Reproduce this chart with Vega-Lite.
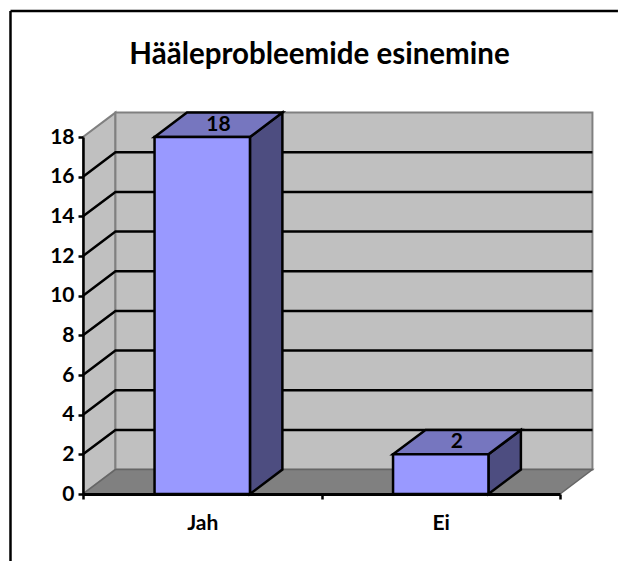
{
"$schema":"https://vega.github.io/schema/vega-lite/v6.json",
"width":477,"height":357,
"autosize":"none",
"padding":{"left":83,"top":137,"right":58,"bottom":67},
"background":"white",
"config":{"view":{"stroke":null}},
"title":{"text":"Hääleprobleemide esinemine","font":"Lato","fontSize":29.5,"fontWeight":"bold","color":"#000000","anchor":"middle","frame":"group","offset":-61,"dx":-2},
"datasets":{
"bars":[{"category":"Jah","value":18,"slot":0},{"category":"Ei","value":2,"slot":1}],
"ticks":[{"tick":2},{"tick":4},{"tick":6},{"tick":8},{"tick":10},{"tick":12},{"tick":14},{"tick":16}],
"floor":[{"value":0,"slot":0}],
"edge":[{"depth":0},{"depth":1}]
},
"encoding":{
  "x":{"field":"px","type":"quantitative","scale":{"domain":[0,2],"nice":false,"zero":false},"title":null,
   "axis":{"zindex":1,"values":[0,0.5,1,1.5,2],"labelExpr":"datum.value==0.5?'Jah':datum.value==1.5?'Ei':''","domainColor":"#000000","domainWidth":3,"tickColor":"#000000","tickWidth":2.5,"tickSize":5,"tickOpacity":{"condition":{"test":"datum.value==0||datum.value==1||datum.value==2","value":1},"value":0},"labelFont":"Lato","labelFontWeight":"bold","labelFontSize":21,"labelColor":"#000000","labelPadding":13,"labelAngle":0,"labelOverlap":false,"labelBound":false,"labelFlush":false,"grid":false}},
  "y":{"field":"yb","type":"quantitative","scale":{"domain":[0,18],"nice":false,"zero":false},"title":null,
   "axis":{"zindex":1,"values":[0,2,4,6,8,10,12,14,16,18],"domainColor":"#000000","domainWidth":2.5,"tickColor":"#000000","tickWidth":2.5,"tickSize":5,"labelFont":"Lato","labelFontWeight":"bold","labelFontSize":21,"labelColor":"#000000","labelPadding":4,"labelOverlap":false,"labelBound":false,"labelFlush":false,"grid":false}}
},
"layer":[
{"data":{"name":"edge"},
 "transform":[{"calculate":"datum.depth*0.136","as":"px"},{"calculate":"datum.depth*1.23","as":"yb"},{"calculate":"18+datum.yb","as":"yt"}],
 "mark":{"type":"area","orient":"vertical","fill":"#C0C0C0","stroke":"#808080","strokeWidth":2},
 "encoding":{"y2":{"field":"yt"}}},
{"data":{"name":"edge"},"transform":[{"filter":"datum.depth==1"},{"calculate":"0.136","as":"px"},{"calculate":"2.136","as":"pr"},{"calculate":"1.23","as":"yb"},{"calculate":"19.23","as":"yt"}],
 "mark":{"type":"rect","fill":"#C0C0C0","stroke":"#808080","strokeWidth":2},
 "encoding":{"x2":{"field":"pr"},"y2":{"field":"yt"}}},
{"data":{"name":"floor"},
 "transform":[{"calculate":"datum.slot","as":"a"},{"calculate":"datum.slot+0.136","as":"b"},{"calculate":"datum.slot+2","as":"c"},{"calculate":"datum.slot+2.136","as":"d"},
  {"fold":["a","b","c","d"],"as":["k","px"]},
  {"calculate":"datum.k=='d'?1.23:0","as":"yb"},{"calculate":"datum.k=='a'?0:1.23","as":"yt"}],
 "mark":{"type":"area","orient":"vertical","fill":"#808080","stroke":"#666666","strokeWidth":1.5},
 "encoding":{"y2":{"field":"yt"}}},
{"data":{"name":"ticks"},
 "transform":[{"calculate":"0","as":"a"},{"calculate":"0.136","as":"b"},{"calculate":"2.136","as":"c"},
  {"fold":["a","b","c"],"as":["k","px"]},
  {"calculate":"datum.k=='a'?datum.tick:datum.tick+1.23","as":"yb"}],
 "mark":{"type":"line","color":"#000000","strokeWidth":2.5},
 "encoding":{"detail":{"field":"tick"}}},
{"data":{"name":"bars"},
 "transform":[{"calculate":"datum.slot+0.7","as":"r0"},{"calculate":"datum.r0+0.136","as":"r1"},
  {"fold":["r0","r1"],"as":["k","px"]},
  {"calculate":"datum.k=='r1'?1.23:0","as":"yb"},{"calculate":"datum.value+datum.yb","as":"yt"}],
 "mark":{"type":"area","orient":"vertical","fill":"#4D4D80","stroke":"#000000","strokeWidth":2.5},
 "encoding":{"y2":{"field":"yt"},"detail":{"field":"category"}}},
{"data":{"name":"bars"},
 "transform":[{"calculate":"datum.slot+0.3","as":"a"},{"calculate":"datum.a+0.136","as":"b"},{"calculate":"datum.slot+0.7","as":"c"},{"calculate":"datum.c+0.136","as":"d"},
  {"fold":["a","b","c","d"],"as":["k","px"]},
  {"calculate":"datum.k=='d'?datum.value+1.23:datum.value","as":"yb"},{"calculate":"datum.k=='a'?datum.value:datum.value+1.23","as":"yt"}],
 "mark":{"type":"area","orient":"vertical","fill":"#7676BF","stroke":"#000000","strokeWidth":2.5},
 "encoding":{"y2":{"field":"yt"},"detail":{"field":"category"}}},
{"data":{"name":"bars"},
 "transform":[{"calculate":"datum.slot+0.3","as":"px"},{"calculate":"datum.slot+0.7","as":"pr"},{"calculate":"datum.value","as":"yb"},{"calculate":"0","as":"yt"}],
 "mark":{"type":"rect","fill":"#9999FF","stroke":"#000000","strokeWidth":2.5},
 "encoding":{"x2":{"field":"pr"},"y2":{"field":"yt"}}},
{"data":{"name":"bars"},
 "transform":[{"calculate":"datum.slot+0.568","as":"px"},{"calculate":"datum.value+0.615","as":"yb"}],
 "mark":{"type":"text","font":"Lato","fontWeight":"bold","fontSize":21,"color":"#000000","baseline":"middle","align":"center"},
 "encoding":{"text":{"field":"value","type":"quantitative"}}},
{"data":{"name":"floor"},
 "transform":[{"calculate":"-0.304","as":"px"},{"calculate":"24.35","as":"yb"},{"calculate":"-3.4","as":"yt"}],
 "mark":{"type":"rule","color":"#000000","strokeWidth":2.5},
 "encoding":{"y2":{"field":"yt"}}},
{"data":{"name":"floor"},
 "transform":[{"calculate":"-0.304","as":"px"},{"calculate":"2.243","as":"pr"},{"calculate":"24.35","as":"yb"}],
 "mark":{"type":"rule","color":"#000000","strokeWidth":2.5},
 "encoding":{"x2":{"field":"pr"}}}
]
}
